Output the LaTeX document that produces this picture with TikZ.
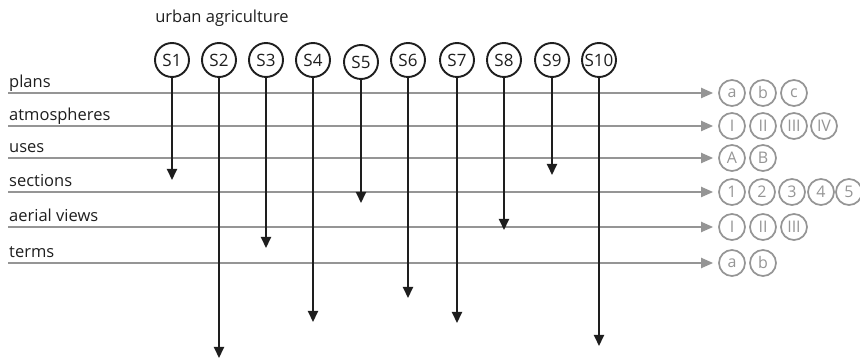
\documentclass[tikz,border=0pt]{standalone}
\usepackage{fontspec}
\setmainfont{Open Sans}
\usetikzlibrary{arrows.meta,positioning}
\definecolor{greyline}{HTML}{959595}
\definecolor{inkdark}{HTML}{1E1E1E}

\begin{document}
\begin{tikzpicture}[x=1pt,y=-1pt]
    \tikzstyle{site} = [circle, draw=inkdark, line width=1.9pt, minimum size=34pt,
        inner sep=0pt, text=inkdark, font=\fontsize{17}{17}\selectfont]
    \tikzstyle{item} = [circle, draw=greyline, line width=1.7pt, minimum size=26pt,
        inner sep=0pt, text=greyline, font=\fontsize{16}{16}\selectfont]
    \tikzstyle{layer} = [draw=greyline, line width=2pt, shorten >=5pt,
        -{Triangle[length=12pt,width=10pt]}]
    \tikzstyle{drop} = [draw=inkdark, line width=2pt,
        -{Triangle[length=11pt,width=10pt]}]
    \tikzstyle{tag} = [anchor=base west, inner sep=0pt, text=inkdark,
        font=\fontsize{16.5}{16.5}\selectfont]

    \useasboundingbox (0,0) rectangle (860,363);

    \node [text=inkdark, font=\fontsize{16.5}{16.5}\selectfont] (title) at (222,18) {urban agriculture};

    % layers (left start, label, items on the right)
    \coordinate (plansL) at (8,93);
    \node [tag] (plansT) at (9,88) {plans};
    \node [item] (plan1) at (732,93) {a};
    \node [item, right of=plan1, node distance=31pt] (plan2) {b};
    \node [item, right of=plan2, node distance=31pt] (plan3) {c};
    \path [layer] (plansL) -- (plan1);
    %
    \coordinate (atmL) at (8,126);
    \node [tag] (atmT) at (9,121) {atmospheres};
    \node [item] (atm1) at (732,126) {I};
    \node [item, right of=atm1, node distance=31pt] (atm2) {II};
    \node [item, right of=atm2, node distance=31pt] (atm3) {III};
    \node [item, right of=atm3, node distance=30pt] (atm4) {IV};
    \path [layer] (atmL) -- (atm1);
    %
    \coordinate (useL) at (8,158);
    \node [tag] (useT) at (9,153) {uses};
    \node [item] (use1) at (732,158) {A};
    \node [item, right of=use1, node distance=31pt] (use2) {B};
    \path [layer] (useL) -- (use1);
    %
    \coordinate (secL) at (8,192);
    \node [tag] (secT) at (9,187) {sections};
    \node [item] (sec1) at (732,192) {1};
    \node [item, right of=sec1, node distance=30pt] (sec2) {2};
    \node [item, right of=sec2, node distance=30pt] (sec3) {3};
    \node [item, right of=sec3, node distance=29pt] (sec4) {4};
    \node [item, right of=sec4, node distance=28pt] (sec5) {5};
    \path [layer] (secL) -- (sec1);
    %
    \coordinate (aerL) at (8,227);
    \node [tag] (aerT) at (9,222) {aerial views};
    \node [item] (aer1) at (732,227) {I};
    \node [item, right of=aer1, node distance=31pt] (aer2) {II};
    \node [item, right of=aer2, node distance=31pt] (aer3) {III};
    \path [layer] (aerL) -- (aer1);
    %
    \coordinate (termL) at (8,263);
    \node [tag] (termT) at (9,258) {terms};
    \node [item] (term1) at (732,263) {a};
    \node [item, right of=term1, node distance=31pt] (term2) {b};
    \path [layer] (termL) -- (term1);

    % sites and their drops
    \node [site] (s1) at (172,60) {S1};
    \node [site] (s2) at (219,60) {S2};
    \node [site] (s3) at (266,60) {S3};
    \node [site] (s4) at (313,60) {S4};
    \node [site] (s5) at (361,62) {S5};
    \node [site] (s6) at (408,60) {S6};
    \node [site] (s7) at (457,60) {S7};
    \node [site] (s8) at (504,60) {S8};
    \node [site] (s9) at (552,60) {S9};
    \node [site] (s10) at (599,60) {S10};
    %
    \coordinate (s1end) at (172,180);
    \coordinate (s2end) at (219,358);
    \coordinate (s3end) at (266,248);
    \coordinate (s4end) at (313,322);
    \coordinate (s5end) at (361,203);
    \coordinate (s6end) at (408,298);
    \coordinate (s7end) at (457,323);
    \coordinate (s8end) at (504,230);
    \coordinate (s9end) at (552,175);
    \coordinate (s10end) at (599,346);
    \path [drop] (s1) -- (s1end);
    \path [drop] (s2) -- (s2end);
    \path [drop] (s3) -- (s3end);
    \path [drop] (s4) -- (s4end);
    \path [drop] (s5) -- (s5end);
    \path [drop] (s6) -- (s6end);
    \path [drop] (s7) -- (s7end);
    \path [drop] (s8) -- (s8end);
    \path [drop] (s9) -- (s9end);
    \path [drop] (s10) -- (s10end);

\end{tikzpicture}
\end{document}
